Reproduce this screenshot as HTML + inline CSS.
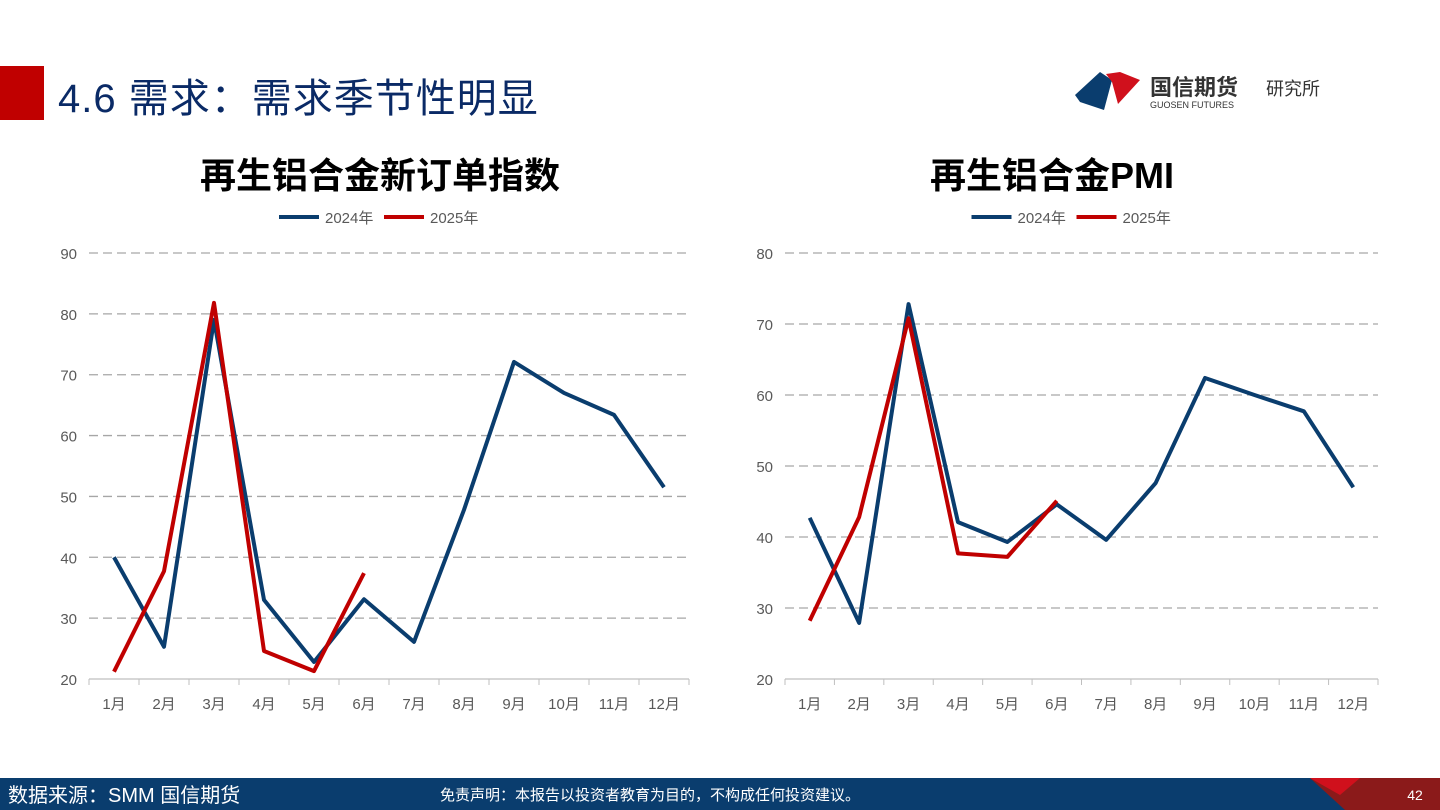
<!DOCTYPE html>
<html><head><meta charset="utf-8"><style>
body{margin:0;width:1440px;height:810px;overflow:hidden;background:#fff;font-family:"Liberation Sans","Noto Sans CJK SC",sans-serif;}
svg{position:absolute;left:0;top:0}
</style></head><body>
<svg width="1440" height="810">
<rect x="0" y="66" width="44" height="54" fill="#c00000"/>
<text x="58" y="112" font-size="40" letter-spacing="1" fill="#0a2a66" font-family="Liberation Sans, Noto Sans CJK SC, sans-serif">4.6 需求：需求季节性明显</text>
<g>
<path d="M1075 95 L1100 72 L1112 80 L1104 110 L1080 102Z" fill="#0a3d6e"/>
<path d="M1106 74 L1120 72 L1140 80 L1118 104 L1112 82Z" fill="#d0101c"/>
<text x="1150" y="95" font-size="22" font-weight="bold" fill="#333">国信期货</text>
<text x="1266" y="95" font-size="18" fill="#333">研究所</text>
<text x="1150" y="108" font-size="9" fill="#333">GUOSEN FUTURES</text>
</g>
<text x="380" y="188" text-anchor="middle" font-size="36" font-weight="bold" fill="#000">再生铝合金新订单指数</text>
<text x="1052" y="188" text-anchor="middle" font-size="36" font-weight="bold" fill="#000">再生铝合金PMI</text>
<g id="c1"></g><g id="c2"></g>
<rect x="0" y="778" width="1440" height="32" fill="#0a3d6e"/>
<path d="M1310 778 L1440 778 L1440 810 L1345 810Z" fill="#8b1a1a"/>
<path d="M1310 778 L1360 778 L1340 795Z" fill="#d0101c"/>
<text x="8" y="802" font-size="20" fill="#fff">数据来源：SMM 国信期货</text>
<text x="440" y="800" font-size="15" fill="#fff">免责声明：本报告以投资者教育为目的，不构成任何投资建议。</text>
<text x="1415" y="800" font-size="14" fill="#fff" text-anchor="middle">42</text>
</svg>
<script>
const months=["1月","2月","3月","4月","5月","6月","7月","8月","9月","10月","11月","12月"];
const c1Ticks=[20,30,40,50,60,70,80,90];
const c1S2024=[40,25.3,79,33,22.8,33.1,26.1,47.8,72.1,67,63.4,51.5];
const c1S2025=[21.2,37.7,81.8,24.6,21.3,37.4];
const c2Ticks=[20,30,40,50,60,70,80];
const c2S2024=[42.7,27.9,72.8,42.1,39.3,44.6,39.6,47.6,62.4,60,57.7,47.0];
const c2S2025=[28.2,42.8,70.8,37.7,37.2,45.1];
const NS="http://www.w3.org/2000/svg";
function mk(p,t,a){const e=document.createElementNS(NS,t);for(const k in a)e.setAttribute(k,a[k]);p.appendChild(e);return e;}
function draw(id,x0,x1,ticks,s1,s2,pre){
 const g=document.getElementById(id);
 const y0=679,yTop=253,mn=ticks[0],mx=ticks[ticks.length-1];
 const Y=v=>y0-(v-mn)/(mx-mn)*(y0-yTop);
 const step=(x1-x0)/months.length;
 const X=i=>x0+step*(i+0.5);
 ticks.forEach(t=>{
  const l=mk(g,'line',{x1:x0,x2:x1,y1:Y(t),y2:Y(t),stroke:t===mn?'#bfbfbf':'#a6a6a6','stroke-width':1.3,'stroke-dasharray':t===mn?'none':'9,5'});
  
  
  const tx=mk(g,'text',{x:x0-12,y:Y(t)+6,'text-anchor':'end','font-size':15,fill:'#595959'});tx.textContent=t;
  
  
 });
 months.forEach((m,i)=>{
  const tk=mk(g,'line',{x1:x0+step*i,x2:x0+step*i,y1:y0,y2:y0+6,stroke:'#bfbfbf'});
  
  
  const tx=mk(g,'text',{x:X(i),y:709,'text-anchor':'middle','font-size':15,fill:'#595959'});tx.textContent=m;
  
  
 });
 mk(g,'line',{x1:x1,x2:x1,y1:y0,y2:y0+6,stroke:'#bfbfbf'});
 [[s1,'#0a3d6e','2024'],[s2,'#c00000','2025']].forEach(([s,c,n])=>{
  const p=mk(g,'polyline',{points:s.map((v,i)=>X(i)+','+Y(v)).join(' '),fill:'none',stroke:c,'stroke-width':4,'stroke-linejoin':'round'});
  
  
 });
 const cx=(x0+x1)/2;
 [['2024年','#0a3d6e',cx-110],['2025年','#c00000',cx-5]].forEach(([t,c,lx])=>{
  const l=mk(g,'line',{x1:lx,x2:lx+40,y1:217,y2:217,stroke:c,'stroke-width':4});
  
  
  const tx=mk(g,'text',{x:lx+46,y:223,'font-size':15,fill:'#595959'});tx.textContent=t;
  
  
 });
}
draw('c1',89,689,c1Ticks,c1S2024,c1S2025,'chart1-');
draw('c2',785,1378,c2Ticks,c2S2024,c2S2025,'chart2-');
</script>
</body></html>
